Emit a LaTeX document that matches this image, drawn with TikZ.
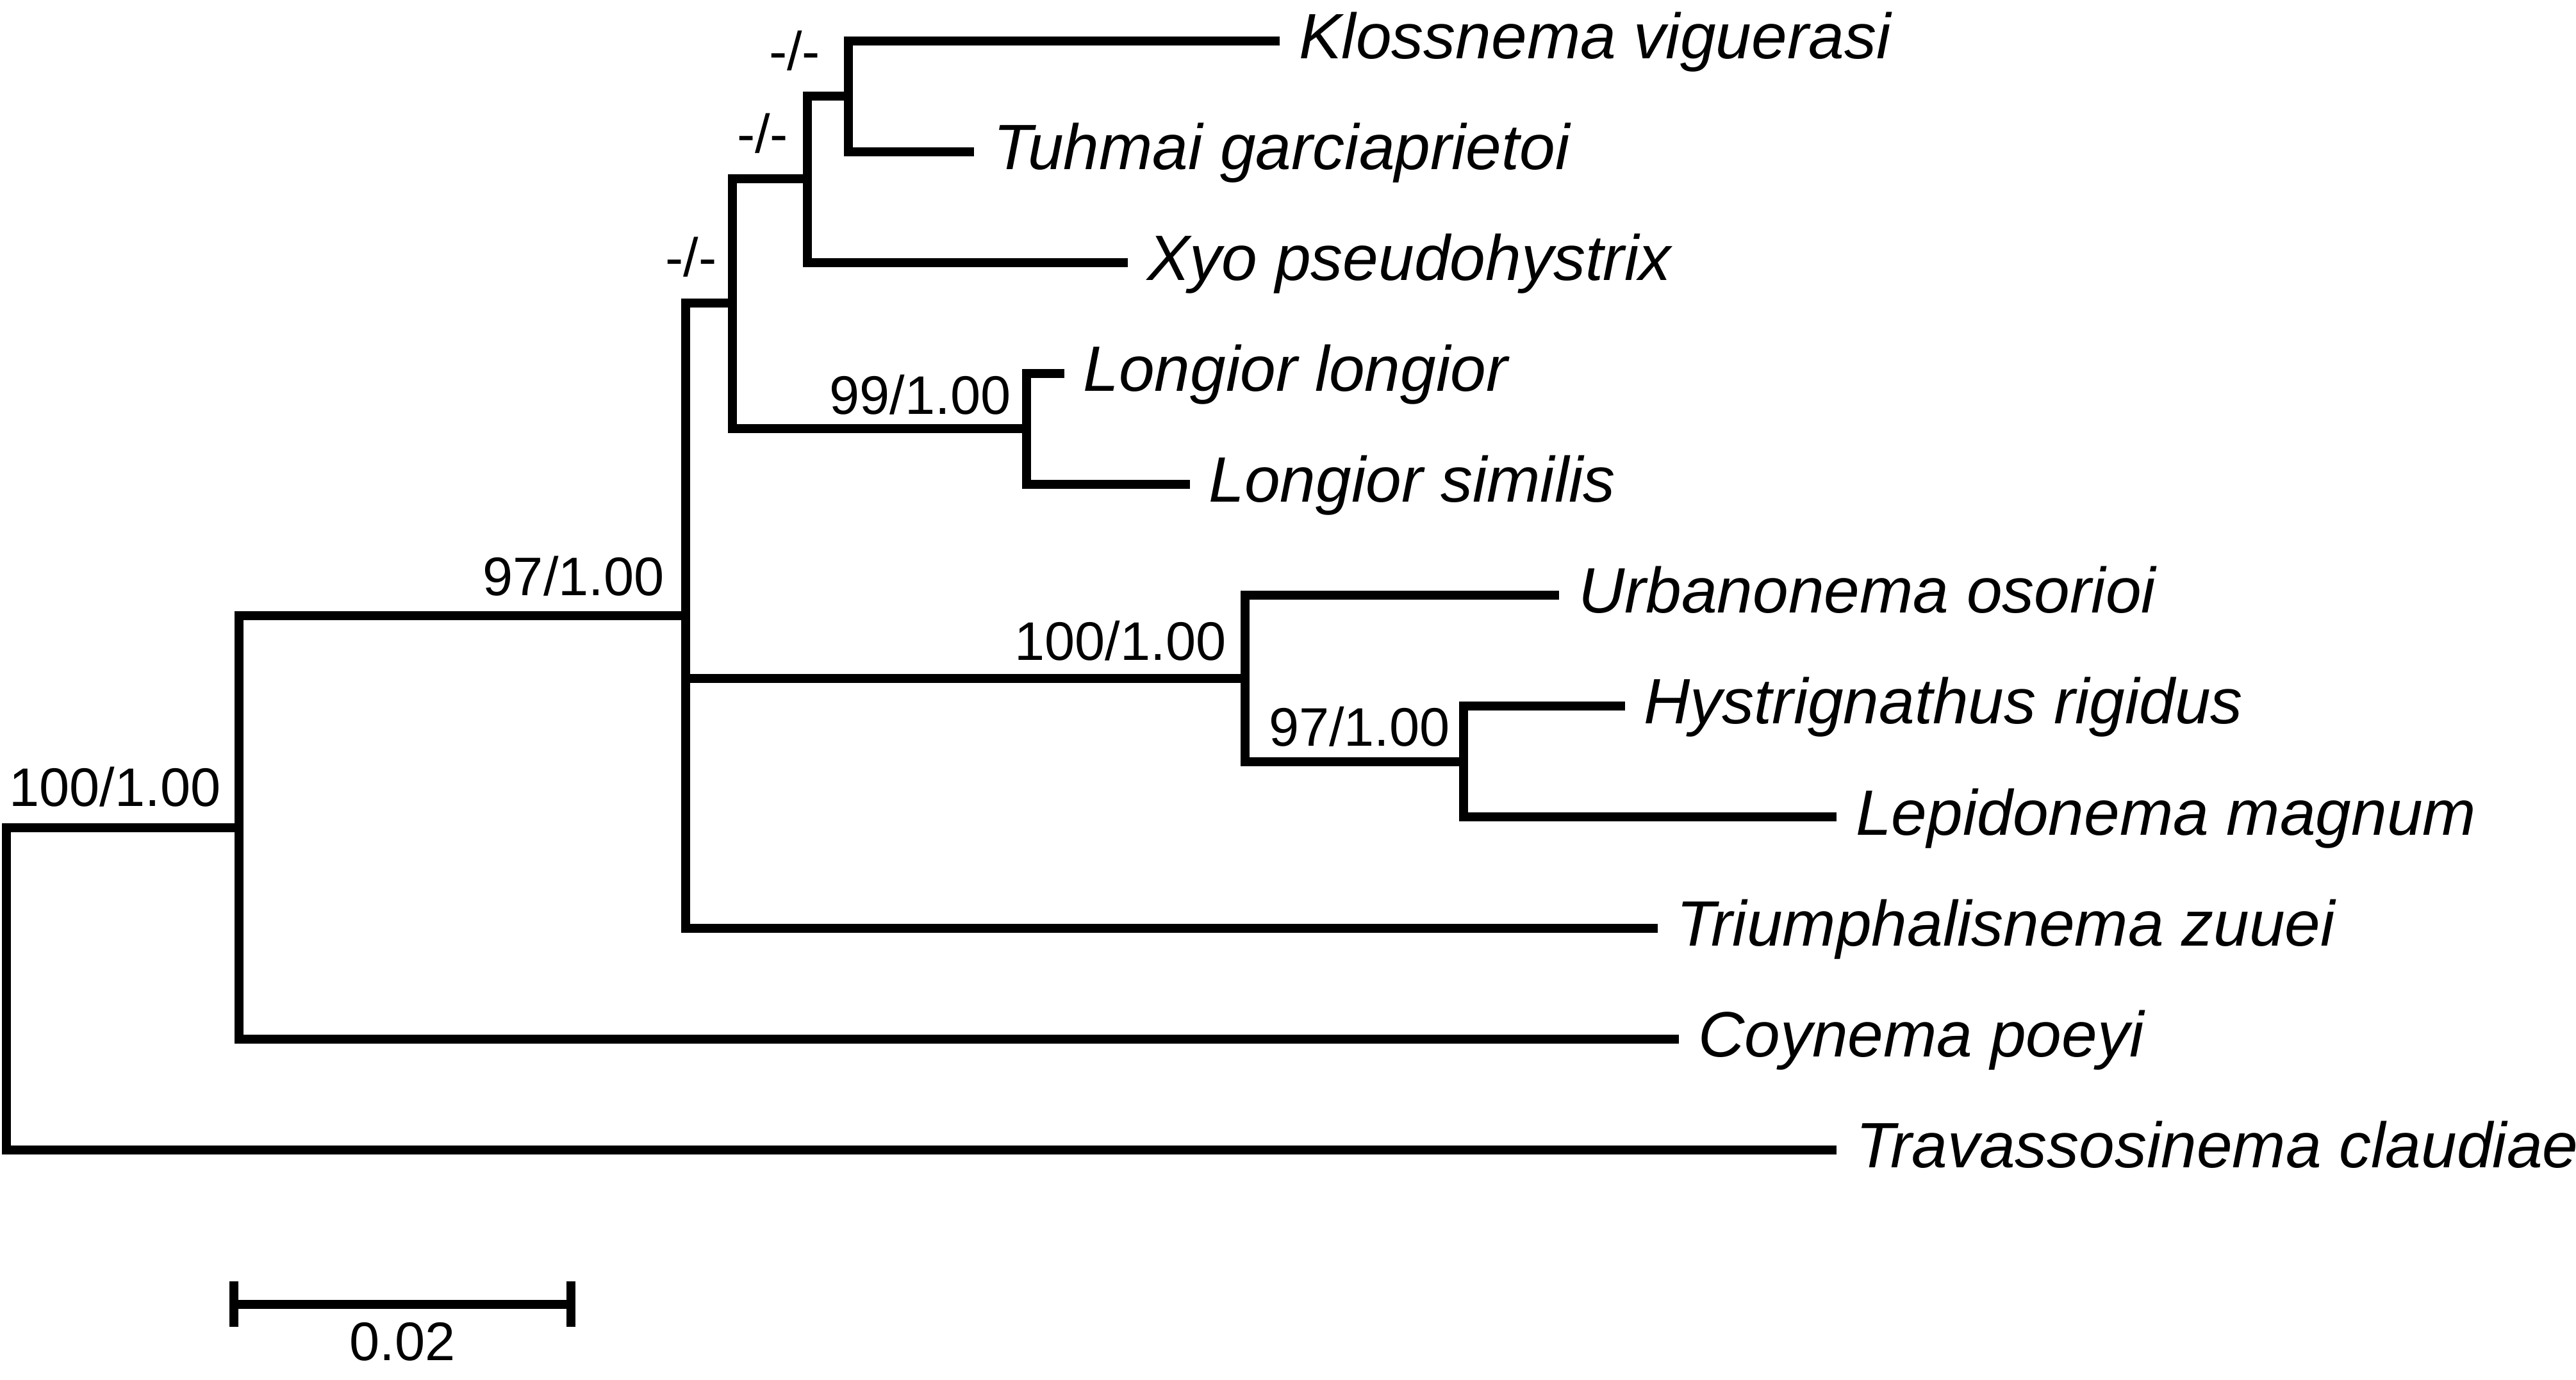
\documentclass[tikz,border=0pt]{standalone}
\usepackage{fontspec}
\setmainfont{Liberation Sans}
\usepackage{tikz}
\usetikzlibrary{positioning}

\tikzset{
  branch/.style={line width=1.55pt, line join=miter},
  taxon/.style={anchor=west, inner xsep=0.11cm, inner ysep=0pt,
    text height=0.293cm, text depth=0.078cm,
    font=\fontsize{11.1}{13}\selectfont\itshape},
  supp/.style={anchor=south east, inner sep=0pt, text depth=0pt,
    font=\fontsize{9.4}{11}\selectfont},
}

\begin{document}
\begin{tikzpicture}[x=0.01cm, y=-0.01cm]
\useasboundingbox (0,0) rectangle (1568,840);
% internal nodes
\coordinate (nR) at (3.8,600);
\coordinate (nA) at (145.5,504);
\coordinate (nB) at (417.4,375);
\coordinate (nC) at (446,184.6);
\coordinate (nE) at (491.5,109);
\coordinate (nG) at (516.5,58.6);
\coordinate (nF) at (625,260.9);
\coordinate (nD) at (758,412.9);
\coordinate (nH) at (891,463.8);
% tips, one row each
\foreach \nm/\xe/\txt [count=\i from 0] in {
  kloss/779/Klossnema viguerasi,
  tuhmai/593/Tuhmai garciaprietoi,
  xyo/686.5/Xyo pseudohystrix,
  llong/647.7/Longior longior,
  lsim/724.2/Longior similis,
  urban/949/Urbanonema osorioi,
  hystr/989/Hystrignathus rigidus,
  lepid/1118/Lepidonema magnum,
  triumph/1009/Triumphalisnema zuuei,
  coyn/1022/Coynema poeyi,
  trav/1118/Travassosinema claudiae}
  \node[taxon] (\nm) at (\xe,{25+67.5*\i}) {\txt};
% branches
\draw[branch] (kloss.west) -| (nG) |- (tuhmai.west);
\draw[branch] (nG) -| (nE) |- (xyo.west);
\draw[branch] (llong.west) -| (nF) |- (lsim.west);
\draw[branch] (nE) -| (nC) |- (nF);
\draw[branch] (hystr.west) -| (nH) |- (lepid.west);
\draw[branch] (urban.west) -| (nD) |- (nH);
\draw[branch] (nC) -| (nB) |- (triumph.west);
\draw[branch] (nB |- nD) -- (nD);
\draw[branch] (nB) -| (nA) |- (coyn.west);
\draw[branch] (nA) -| (nR) |- (trav.west);
% support values
\node[supp] (sA) at (135,491.5) {100/1.00};
\node[supp] (sB) at (405,363.4) {97/1.00};
\node[supp] (sC) at (437,169) {-/-};
\node[supp] (sE) at (480.5,93.6) {-/-};
\node[supp] (sG) at (500,43.5) {-/-};
\node[supp] (sF) at (616,252.7) {99/1.00};
\node[supp] (sD) at (747,402.5) {100/1.00};
\node[supp] (sH) at (883.3,455) {97/1.00};
% scale bar
\coordinate (sbL) at (142.4,794);
\coordinate (sbR) at (347.6,794);
\draw[branch] (sbL) -- (sbR);
\draw[branch] (142.4,780.2) -- (142.4,807.7);
\draw[branch] (347.6,780.2) -- (347.6,807.7);
\node[supp, anchor=north] (sbT) at (245,804.3) {0.02};
\end{tikzpicture}
\end{document}
